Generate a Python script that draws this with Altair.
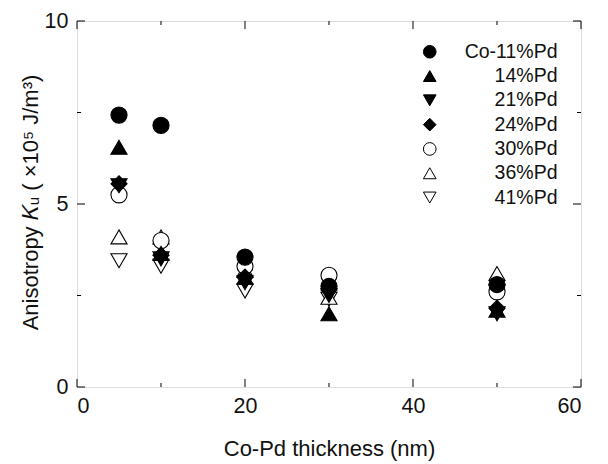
import altair as alt
import pandas as pd

series = ["Co-11%Pd", "14%Pd", "21%Pd", "24%Pd", "30%Pd", "36%Pd", "41%Pd"]
shapes = ["circle", "triangle-up", "triangle-down", "diamond", "circle", "triangle-up", "triangle-down"]
fills = ["black", "black", "black", "black", "white", "white", "white"]
strokes = ["black"] * 7

thickness = [5, 10, 20, 30, 50]
k11 = [7.43, 7.15, 3.55, 2.75, 2.8]
k14 = [6.55, 3.65, 3.0, 2.0, 2.1]
k21 = [5.5, 3.5, 2.85, 2.5, 2.0]
k24 = [5.55, 3.6, 3.0, 2.65, 2.15]
k30 = [5.25, 4.0, 3.3, 3.05, 2.6]
k36 = [4.1, 4.1, 3.2, 2.45, 3.1]
k41 = [3.45, 3.3, 2.62, 2.4, 2.6]
values = [k11, k14, k21, k24, k30, k36, k41]

x_major = [0, 20, 40, 60]
x_minor = [10, 30, 50]
y_major = [0, 5, 10]
y_minor = [2.5, 7.5]

rows = []
for i, (s, vals) in enumerate(zip(series, values)):
    for t, v in zip(thickness, vals):
        rows.append({"series": s, "t": t, "k": v, "order": -i})
df = pd.DataFrame(rows)

FONT = "Liberation Sans"
xs = alt.Scale(domain=[0, 60], nice=False, zero=False)
ys = alt.Scale(domain=[0, 10], nice=False, zero=False)

leg = dict(
    title=None, orient="none", legendX=343, legendY=21, labelFont=FONT, labelFontSize=19.5,
    labelColor="#111", labelAlign="right", labelOffset=118, symbolSize=160,
    symbolStrokeColor="black", symbolStrokeWidth=1, rowPadding=3.3)

points = alt.Chart(df).mark_point(filled=True, stroke="black", strokeWidth=1.1, opacity=1, size=260).encode(
    x=alt.X("t:Q", scale=xs, axis=alt.Axis(
        title="Co-Pd thickness (nm)", values=x_major, ticks=False, domain=False, grid=False,
        labelFont=FONT, labelFontSize=21.5, labelColor="#111", labelPadding=8,
        titleFont=FONT, titleFontSize=22, titleFontWeight="normal", titleColor="#111",
        titleY=61, titleBaseline="middle")),
    y=alt.Y("k:Q", scale=ys, axis=alt.Axis(
        title="Anisotropy 𝐾ᵤ ( ×10⁵ J/m³)", values=y_major, ticks=False, domain=False, grid=False,
        labelFont=FONT, labelFontSize=21.5, labelColor="#111", labelPadding=9,
        titleFont=FONT, titleFontSize=22, titleFontWeight="normal", titleColor="#111",
        titleX=-47, titleY=181, titleAngle=270, titleBaseline="middle", titleAlign="center")),
    shape=alt.Shape("series:N", scale=alt.Scale(domain=series, range=shapes), legend=alt.Legend(**leg)),
    fill=alt.Fill("series:N", scale=alt.Scale(domain=series, range=fills), legend=alt.Legend(**leg)),
    stroke=alt.Stroke("series:N", scale=alt.Scale(domain=series, range=strokes), legend=alt.Legend(**leg)),
    order=alt.Order("order:Q"),
)

# tick marks, inward, on all four sides
def xticks(vals, length):
    d = pd.DataFrame({"v": vals})
    b = alt.Chart(d).mark_rule(color="black", strokeWidth=1).encode(
        x=alt.X("v:Q", scale=xs), y=alt.datum(0, scale=ys), y2=alt.datum(length))
    t = alt.Chart(d).mark_rule(color="black", strokeWidth=1).encode(
        x=alt.X("v:Q", scale=xs), y=alt.datum(10, scale=ys), y2=alt.datum(10 - length))
    return [b, t]

def yticks(vals, length):
    d = pd.DataFrame({"v": vals})
    l = alt.Chart(d).mark_rule(color="black", strokeWidth=1).encode(
        y=alt.Y("v:Q", scale=ys), x=alt.datum(0, scale=xs), x2=alt.datum(length))
    r = alt.Chart(d).mark_rule(color="black", strokeWidth=1).encode(
        y=alt.Y("v:Q", scale=ys), x=alt.datum(60, scale=xs), x2=alt.datum(60 - length))
    return [l, r]

ticks = xticks(x_major, 0.22) + xticks(x_minor, 0.11) + yticks(y_major, 0.95) + yticks(y_minor, 0.48)

chart = alt.layer(*ticks, points).properties(
    width=504, height=366,
    autosize=alt.AutoSizeParams(type="none"),
    padding={"left": 77, "top": 21, "right": 27, "bottom": 77},
).configure_view(stroke="black", strokeWidth=1.2).configure(background="white")

chart.save("out.html", embed_options={"renderer": "svg", "actions": False})
